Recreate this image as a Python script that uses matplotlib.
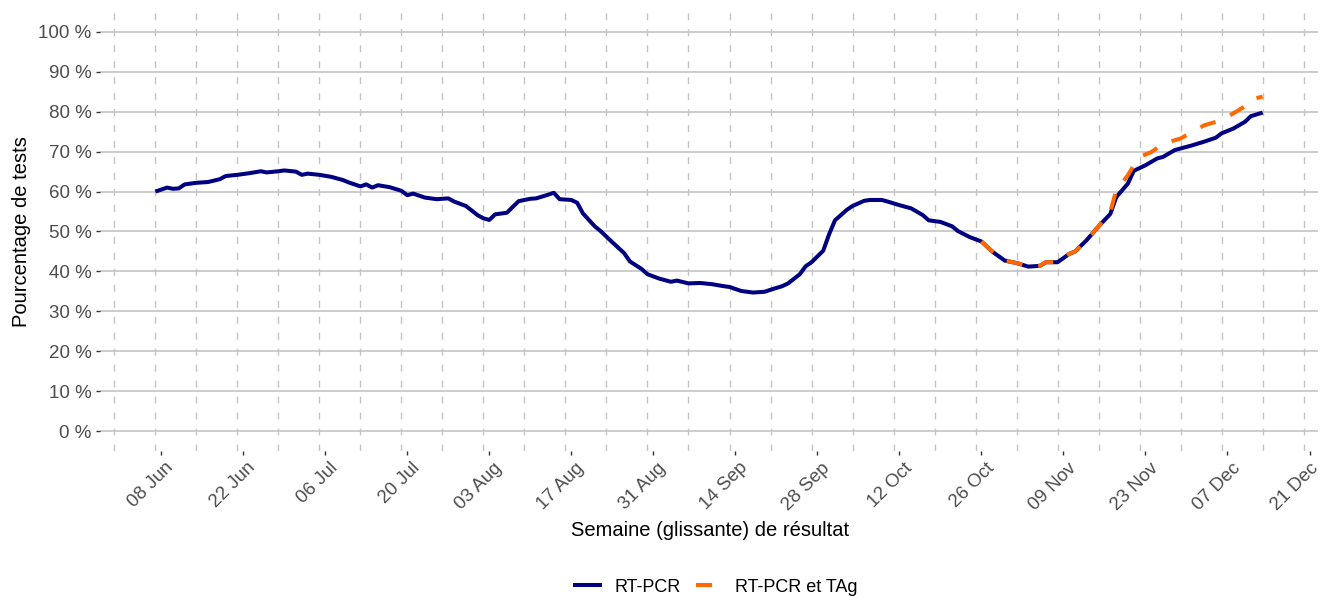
import matplotlib
matplotlib.use("Agg")
import matplotlib.pyplot as plt
import matplotlib.transforms as mtransforms
from matplotlib.lines import Line2D
import pandas as pd

# ---- data ----
pcr_dates = [
    "2020-06-07", "2020-06-09", "2020-06-10", "2020-06-11", "2020-06-12", "2020-06-14",
    "2020-06-16", "2020-06-18", "2020-06-19", "2020-06-21", "2020-06-23", "2020-06-25",
    "2020-06-26", "2020-06-28", "2020-06-29", "2020-07-01", "2020-07-02", "2020-07-03",
    "2020-07-05", "2020-07-07", "2020-07-09", "2020-07-10", "2020-07-12", "2020-07-13",
    "2020-07-14", "2020-07-15", "2020-07-17", "2020-07-19", "2020-07-20", "2020-07-21",
    "2020-07-23", "2020-07-25", "2020-07-27", "2020-07-28", "2020-07-30", "2020-08-01",
    "2020-08-02", "2020-08-03", "2020-08-04", "2020-08-06", "2020-08-08", "2020-08-10",
    "2020-08-11", "2020-08-13", "2020-08-14", "2020-08-15", "2020-08-17", "2020-08-18",
    "2020-08-19", "2020-08-21", "2020-08-22", "2020-08-24", "2020-08-26", "2020-08-27",
    "2020-08-29", "2020-08-30", "2020-09-01", "2020-09-03", "2020-09-04", "2020-09-06",
    "2020-09-08", "2020-09-10", "2020-09-12", "2020-09-13", "2020-09-15", "2020-09-17",
    "2020-09-19", "2020-09-20", "2020-09-22", "2020-09-23", "2020-09-25", "2020-09-26",
    "2020-09-27", "2020-09-29", "2020-09-30", "2020-10-01", "2020-10-03", "2020-10-04",
    "2020-10-06", "2020-10-07", "2020-10-09", "2020-10-10", "2020-10-12", "2020-10-14",
    "2020-10-16", "2020-10-17", "2020-10-19", "2020-10-21", "2020-10-22", "2020-10-24",
    "2020-10-26", "2020-10-28", "2020-10-30", "2020-11-01", "2020-11-03", "2020-11-05",
    "2020-11-06", "2020-11-08", "2020-11-10", "2020-11-11", "2020-11-13", "2020-11-15",
    "2020-11-17", "2020-11-18", "2020-11-20", "2020-11-21", "2020-11-23", "2020-11-25",
    "2020-11-26", "2020-11-28", "2020-11-29", "2020-12-01", "2020-12-03", "2020-12-05",
    "2020-12-06", "2020-12-08", "2020-12-10", "2020-12-11", "2020-12-13",
]
pcr_values = [
    60.0, 61.0, 60.7, 60.8, 61.8, 62.2,
    62.4, 63.1, 63.9, 64.2, 64.6, 65.1,
    64.8, 65.1, 65.3, 65.0, 64.2, 64.5,
    64.2, 63.7, 62.9, 62.3, 61.3, 61.8,
    61.0, 61.6, 61.1, 60.2, 59.1, 59.5,
    58.5, 58.1, 58.3, 57.5, 56.4, 54.1,
    53.3, 52.9, 54.3, 54.7, 57.6, 58.2,
    58.3, 59.2, 59.7, 58.1, 57.9, 57.2,
    54.5, 51.3, 50.1, 47.3, 44.6, 42.5,
    40.6, 39.3, 38.2, 37.4, 37.7, 37.0,
    37.1, 36.8, 36.3, 36.1, 35.1, 34.7,
    34.9, 35.4, 36.3, 37.0, 39.3, 41.3,
    42.3, 45.2, 49.3, 52.8, 55.4, 56.4,
    57.7, 57.9, 57.9, 57.5, 56.6, 55.8,
    54.1, 52.8, 52.4, 51.3, 50.1, 48.6,
    47.5, 44.8, 42.7, 42.1, 41.2, 41.4,
    42.3, 42.3, 44.4, 45.0, 47.9, 51.3,
    54.4, 58.6, 62.0, 65.2, 66.6, 68.3,
    68.7, 70.4, 70.8, 71.6, 72.5, 73.5,
    74.6, 75.8, 77.5, 78.9, 79.8,
]

tag_dates = [
    "2020-10-26", "2020-10-28", "2020-10-30", "2020-11-01", "2020-11-03", "2020-11-05",
    "2020-11-06", "2020-11-08", "2020-11-10", "2020-11-11", "2020-11-13", "2020-11-15",
    "2020-11-17", "2020-11-18", "2020-11-20", "2020-11-21", "2020-11-22", "2020-11-24",
    "2020-11-26", "2020-11-29", "2020-12-01", "2020-12-03", "2020-12-06", "2020-12-08",
    "2020-12-10", "2020-12-11", "2020-12-13",
]
tag_values = [
    47.5, 44.8, 42.7, 42.1, 41.2, 41.4,
    42.3, 42.3, 44.4, 45.0, 47.9, 51.3,
    54.9, 60.3, 64.1, 66.6, 68.7, 69.9,
    72.0, 73.3, 75.0, 76.6, 77.9, 79.6,
    81.4, 83.1, 83.8,
]

series_labels = ["RT-PCR", "RT-PCR et TAg"]
x_tick_dates = pd.date_range("2020-06-08", "2020-12-21", freq="14D")
x_grid_dates = pd.date_range("2020-05-31", "2020-12-20", freq="7D")
y_ticks = list(range(0, 101, 10))

# ---- styling ----
plt.rcParams["font.family"] = ["Liberation Sans", "DejaVu Sans"]
BLUE = "#000080"
ORANGE = "#FF6A00"
GRID = "#BEBEBE"
TICKTXT = "#4D4D4D"

fig = plt.figure(figsize=(13.2, 5.97), dpi=100)
W, H = 1320, 597
left, right, top, bottom = 100, 1318, 12, 451
ax = fig.add_axes([left / W, 1 - bottom / H, (right - left) / W, (bottom - top) / H])

px = pd.to_datetime(pcr_dates)
tx = pd.to_datetime(tag_dates)

ax.plot(px, pcr_values, color=BLUE, lw=2.9, solid_joinstyle="round",
        solid_capstyle="butt", label=series_labels[0], zorder=3)
ax.plot(tx, tag_values, color=ORANGE, lw=2.9, linestyle=(0, (4, 4)),
        label=series_labels[1], zorder=4)

# limits with ggplot-like 5% expansion
x0, x1 = px.min(), px.max()
span = (x1 - x0)
ax.set_xlim(x0 - span * 0.05, x1 + span * 0.05)
ax.set_ylim(-5, 105)

# y axis
ax.set_yticks(y_ticks)
ax.set_yticklabels([f"{v} %" for v in y_ticks])
for v in y_ticks:
    ax.axhline(v, color=GRID, lw=1.1, zorder=1)

# x axis
ax.set_xticks(x_tick_dates)
ax.set_xticklabels([d.strftime("%d %b") for d in x_tick_dates],
                   rotation=45, ha="right", va="top", rotation_mode="anchor")
for d in x_grid_dates:
    ax.axvline(d, color="#C4C4C4", lw=1.0, linestyle=(0, (5, 6.5)), zorder=1)

ax.tick_params(axis="both", which="major", length=3, width=1.0, color="#333333",
               labelcolor=TICKTXT, labelsize=13.5, pad=3)
ax.tick_params(axis="x", pad=3)
shift = mtransforms.ScaledTranslation(4 / 100, 0, fig.dpi_scale_trans)
for lbl in ax.get_xticklabels()[:-1]:
    lbl.set_transform(lbl.get_transform() + shift)

for s in ax.spines.values():
    s.set_visible(False)
ax.set_facecolor("white")

ax.set_xlabel("Semaine (glissante) de résultat", fontsize=14.5, color="black")
ax.xaxis.set_label_coords(0.5012, -0.16)
ax.set_ylabel("Pourcentage de tests", fontsize=14.5, color="black")
ax.yaxis.set_label_coords(-0.0565, 0.5)

handles = [Line2D([0], [0], color=BLUE, lw=2.9),
           Line2D([0], [0], color=ORANGE, lw=2.9, linestyle=(0, (4, 4)))]
fig.legend(handles, series_labels, loc="center", bbox_to_anchor=(716.5 / W, 1 - 587 / H),
           ncol=2, frameon=False, fontsize=13, handlelength=1.38, columnspacing=0.85,
           handletextpad=0.78)

fig.savefig("out.png", dpi=100, facecolor="white")
